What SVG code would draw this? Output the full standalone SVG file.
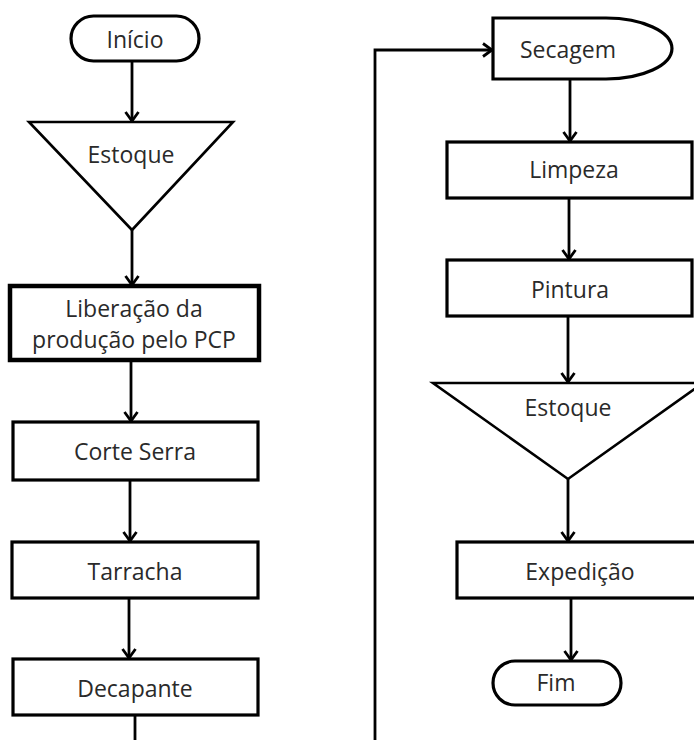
<svg xmlns="http://www.w3.org/2000/svg" width="694" height="740" viewBox="0 0 694 740">
  <style>
    .shape { fill: #ffffff; stroke: #000000; stroke-width: 3.2; stroke-linejoin: miter; }
    .thick { stroke-width: 4.5; }
    .thin { stroke-width: 2.6; }
    .label { font-family: "Open Sans", "Noto Sans", sans-serif; font-size: 23px; fill: #2a2a2a; text-anchor: middle; dominant-baseline: central; }
    .conn { fill: none; stroke: #000000; stroke-width: 2.8; }
  </style>
  <defs>
    <marker id="arrow" viewBox="-11 -8 13 16" refX="0" refY="0" markerWidth="13" markerHeight="16" markerUnits="userSpaceOnUse" orient="auto">
      <path d="M-9,-6.5 L0,0 L-9,6.5" fill="none" stroke="#000000" stroke-width="2.8"/>
    </marker>
  </defs>
  <rect width="694" height="740" fill="#ffffff"/>

  <!-- connectors -->
  <g id="connectors">
    <path class="conn" d="M132,61 V121" marker-end="url(#arrow)"/>
    <path class="conn" d="M132,230 V285" marker-end="url(#arrow)"/>
    <path class="conn" d="M131,360 V421" marker-end="url(#arrow)"/>
    <path class="conn" d="M130,480 V541" marker-end="url(#arrow)"/>
    <path class="conn" d="M129,598 V658" marker-end="url(#arrow)"/>
    <path class="conn" d="M135,715 V740"/>
    <path class="conn" d="M375,740 V50 H492" marker-end="url(#arrow)"/>
    <path class="conn" d="M570,79 V141" marker-end="url(#arrow)"/>
    <path class="conn" d="M569,198 V259" marker-end="url(#arrow)"/>
    <path class="conn" d="M568,316 V382" marker-end="url(#arrow)"/>
    <path class="conn" d="M568,479 V541" marker-end="url(#arrow)"/>
    <path class="conn" d="M571,598 V660" marker-end="url(#arrow)"/>
  </g>

  <!-- left column -->
  <g id="inicio">
    <rect class="shape" x="71" y="16" width="128" height="45" rx="22.5" ry="22.5"/>
    <text class="label" x="135" y="39">Início</text>
  </g>
  <g id="estoque1">
    <polygon class="shape thin" points="29,122 233,122 132,230"/>
    <text class="label" x="131" y="154">Estoque</text>
  </g>
  <g id="liberacao">
    <rect class="shape thick" x="10" y="286" width="249" height="74"/>
    <text class="label" x="134" y="308">Liberação da</text>
    <text class="label" x="134" y="339">produção pelo PCP</text>
  </g>
  <g id="corte-serra">
    <rect class="shape" x="13" y="422" width="245" height="58"/>
    <text class="label" x="135" y="451">Corte Serra</text>
  </g>
  <g id="tarracha">
    <rect class="shape" x="12" y="542" width="246" height="56"/>
    <text class="label" x="135" y="571">Tarracha</text>
  </g>
  <g id="decapante">
    <rect class="shape" x="13" y="659" width="245" height="56"/>
    <text class="label" x="135" y="688">Decapante</text>
  </g>

  <!-- right column -->
  <g id="secagem">
    <path class="shape" d="M493,18 H606 A66,30.5 0 0 1 606,79 H493 Z"/>
    <text class="label" x="568" y="49">Secagem</text>
  </g>
  <g id="limpeza">
    <rect class="shape" x="447" y="142" width="245" height="56"/>
    <text class="label" x="574" y="169">Limpeza</text>
  </g>
  <g id="pintura">
    <rect class="shape" x="447" y="260" width="245" height="56"/>
    <text class="label" x="570" y="289">Pintura</text>
  </g>
  <g id="estoque2">
    <polygon class="shape thin" points="433,383 703,383 568,479"/>
    <text class="label" x="568" y="407">Estoque</text>
  </g>
  <g id="expedicao">
    <rect class="shape" x="457" y="542" width="246" height="56"/>
    <text class="label" x="580" y="571">Expedição</text>
  </g>
  <g id="fim">
    <rect class="shape" x="493" y="661" width="128" height="44" rx="22" ry="22"/>
    <text class="label" x="556" y="682">Fim</text>
  </g>
</svg>
